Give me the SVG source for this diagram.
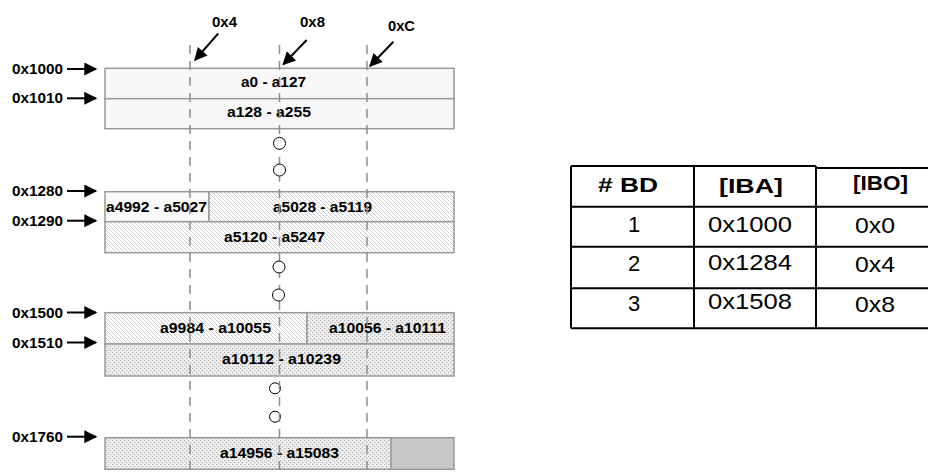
<svg xmlns="http://www.w3.org/2000/svg" width="928" height="474" viewBox="0 0 928 474">
<style>
text{font-family:"Liberation Sans",Arial,sans-serif;fill:#000}
.lb{font-size:14px;font-weight:bold}
.hd{font-size:21px;font-weight:bold}
.dt{font-size:22px}
.cell{stroke:#999;stroke-width:1.5}
.dash{stroke:#8c8c8c;stroke-width:1.5;stroke-dasharray:9 7;fill:none}
.arr{stroke:#000;stroke-width:2;fill:none;marker-end:url(#ah)}
.tbl{stroke:#000;stroke-width:2;fill:none}
.dot{fill:#fff;stroke:#000;stroke-width:1}
</style>
<defs>
<marker id="ah" viewBox="0 0 10 10" refX="9" refY="5" markerWidth="15" markerHeight="13" markerUnits="userSpaceOnUse" orient="auto">
<path d="M0,0 L10,5 L0,10 z" fill="#000"/>
</marker>
<pattern id="diag" width="4" height="4" patternUnits="userSpaceOnUse">
<rect width="4" height="4" fill="#fff"/>
<path d="M-1,-1 L5,5 M-1,3 L1,5 M3,-1 L5,1" stroke="#b8b8b8" stroke-width="0.7"/>
</pattern>
<pattern id="cross" width="4" height="4" patternUnits="userSpaceOnUse">
<rect width="4" height="4" fill="#efefef"/>
<rect x="0" y="0" width="1.2" height="1.2" fill="#b0b0b0"/>
<rect x="2" y="2" width="1.2" height="1.2" fill="#b0b0b0"/>
</pattern>
</defs>

<g id="block1">
<rect class="cell" x="105" y="68.3" width="349" height="30.4" fill="#f7f7f7"/>
<rect class="cell" x="105" y="98.7" width="349" height="30" fill="#f7f7f7"/>
<text class="lb" x="241" y="87" textLength="65" lengthAdjust="spacingAndGlyphs">a0 - a127</text>
<text class="lb" x="227" y="117" textLength="84" lengthAdjust="spacingAndGlyphs">a128 - a255</text>
</g>

<g id="block2">
<rect class="cell" x="105" y="191.7" width="104" height="30" fill="#fafafa"/>
<rect class="cell" x="209" y="191.7" width="245" height="30" fill="url(#diag)"/>
<rect class="cell" x="105" y="221.7" width="349" height="31" fill="url(#diag)"/>
<text class="lb" x="106" y="212" textLength="101" lengthAdjust="spacingAndGlyphs">a4992 - a5027</text>
<text class="lb" x="273" y="212" textLength="99" lengthAdjust="spacingAndGlyphs">a5028 - a5119</text>
<text class="lb" x="224" y="242" textLength="101" lengthAdjust="spacingAndGlyphs">a5120 - a5247</text>
</g>

<g id="block3">
<rect class="cell" x="105" y="312.7" width="202" height="31.3" fill="url(#diag)"/>
<rect class="cell" x="307" y="312.7" width="147" height="31.3" fill="url(#cross)"/>
<rect class="cell" x="105" y="344" width="349" height="32" fill="url(#cross)"/>
<text class="lb" x="160" y="333" textLength="111" lengthAdjust="spacingAndGlyphs">a9984 - a10055</text>
<text class="lb" x="329" y="333" textLength="117" lengthAdjust="spacingAndGlyphs">a10056 - a10111</text>
<text class="lb" x="222" y="364" textLength="119" lengthAdjust="spacingAndGlyphs">a10112 - a10239</text>
</g>

<g id="block4">
<rect class="cell" x="105" y="437.7" width="286" height="31.6" fill="url(#cross)"/>
<rect class="cell" x="391" y="437.7" width="63" height="31.6" fill="#c8c8c8"/>
<text class="lb" x="220" y="457.5" textLength="119" lengthAdjust="spacingAndGlyphs">a14956 - a15083</text>
</g>

<g id="continuation-dots-lower">
<circle class="dot" cx="275" cy="388.3" r="5.5"/>
<circle class="dot" cx="275" cy="416.7" r="5.5"/>
</g>

<g id="offset-guides">
<line class="dash" x1="190" y1="45" x2="190" y2="474"/>
<line class="dash" x1="279.5" y1="45" x2="279.5" y2="474"/>
<line class="dash" x1="367" y1="45" x2="367" y2="474"/>
</g>

<g id="continuation-dots-upper">
<circle class="dot" cx="279.5" cy="143.3" r="6"/>
<circle class="dot" cx="279.5" cy="170" r="6"/>
<circle class="dot" cx="279" cy="267" r="6"/>
<circle class="dot" cx="278.5" cy="295" r="6"/>
</g>

<g id="offset-labels">
<text class="lb" x="212" y="27" textLength="25" lengthAdjust="spacingAndGlyphs">0x4</text>
<text class="lb" x="300" y="27" textLength="25" lengthAdjust="spacingAndGlyphs">0x8</text>
<text class="lb" x="388" y="31" textLength="27" lengthAdjust="spacingAndGlyphs">0xC</text>
</g>

<g id="address-labels">
<text class="lb" x="12" y="74" textLength="51" lengthAdjust="spacingAndGlyphs">0x1000</text>
<text class="lb" x="12" y="103" textLength="51" lengthAdjust="spacingAndGlyphs">0x1010</text>
<text class="lb" x="12" y="196" textLength="51" lengthAdjust="spacingAndGlyphs">0x1280</text>
<text class="lb" x="12" y="226" textLength="51" lengthAdjust="spacingAndGlyphs">0x1290</text>
<text class="lb" x="12" y="317.5" textLength="51" lengthAdjust="spacingAndGlyphs">0x1500</text>
<text class="lb" x="12" y="347.5" textLength="51" lengthAdjust="spacingAndGlyphs">0x1510</text>
<text class="lb" x="12" y="441.5" textLength="51" lengthAdjust="spacingAndGlyphs">0x1760</text>
</g>

<g id="connectors">
<line class="arr" x1="67" y1="69" x2="96" y2="69"/>
<line class="arr" x1="67" y1="98.3" x2="96" y2="98.3"/>
<line class="arr" x1="67" y1="191" x2="96" y2="191"/>
<line class="arr" x1="67" y1="220.7" x2="96" y2="220.7"/>
<line class="arr" x1="67" y1="312.5" x2="96" y2="312.5"/>
<line class="arr" x1="67" y1="342.5" x2="96" y2="342.5"/>
<line class="arr" x1="67" y1="436.7" x2="96" y2="436.7"/>
<line class="arr" x1="218.3" y1="33.3" x2="195" y2="60"/>
<line class="arr" x1="306.7" y1="40" x2="283.3" y2="64.3"/>
<line class="arr" x1="393.3" y1="41.7" x2="370" y2="66"/>
</g>

<g id="table">
<path class="tbl" d="M571,166 H816 M816,168 H930 M571,206.7 H930 M571,246.7 H930 M571,288.3 H930 M571,328.3 H930 M571,166 V328.3 M694,166 V328.3 M816,166 V328.3"/>
<text class="hd" x="598" y="192" textLength="60" lengthAdjust="spacingAndGlyphs"># BD</text>
<text class="hd" x="719" y="193" textLength="64" lengthAdjust="spacingAndGlyphs">[IBA]</text>
<text class="hd" x="853" y="190" textLength="55" lengthAdjust="spacingAndGlyphs">[IBO]</text>
<text class="dt" x="634" y="232" text-anchor="middle">1</text>
<text class="dt" x="708" y="232" textLength="84" lengthAdjust="spacingAndGlyphs">0x1000</text>
<text class="dt" x="855" y="233" textLength="40" lengthAdjust="spacingAndGlyphs">0x0</text>
<text class="dt" x="634" y="270.5" text-anchor="middle">2</text>
<text class="dt" x="708" y="270" textLength="84" lengthAdjust="spacingAndGlyphs">0x1284</text>
<text class="dt" x="855" y="272" textLength="40" lengthAdjust="spacingAndGlyphs">0x4</text>
<text class="dt" x="634" y="310.5" text-anchor="middle">3</text>
<text class="dt" x="708" y="308.5" textLength="84" lengthAdjust="spacingAndGlyphs">0x1508</text>
<text class="dt" x="855" y="312" textLength="40" lengthAdjust="spacingAndGlyphs">0x8</text>
</g>
</svg>
